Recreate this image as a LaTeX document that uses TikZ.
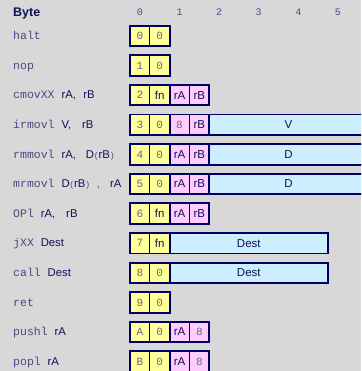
\documentclass[tikz,border=0pt]{standalone}
\usepackage{fontspec}
\setmainfont{Liberation Sans}
\setmonofont{Liberation Mono}
\newfontfamily\monofam{Liberation Mono}
\definecolor{bgc}{HTML}{D8D8D8}
\definecolor{navy}{HTML}{000066}
\definecolor{txt}{HTML}{10105A}
\definecolor{mnc}{HTML}{4A4A82}
\definecolor{digc}{HTML}{66668A}
\definecolor{yel}{HTML}{FFFF99}
\definecolor{pnk}{HTML}{FFCCFF}
\definecolor{blu}{HTML}{CCEEFF}
\newcommand\mn[1]{{\monofam\fontsize{11.5}{12}\selectfont\color{mnc}#1}}
\newcommand\mnp[1]{\kern-0.3pt{\monofam\fontsize{8.5}{9}\selectfont\color{mnc}#1}\kern-0.3pt}
\tikzset{
  cell/.style={draw=navy, line width=0.7pt, minimum width=19.8pt, minimum height=20.5pt,
    inner sep=0pt, outer sep=0pt, anchor=west, text=txt, font=\fontsize{11.5}{12}\selectfont},
  ycell/.style={cell, fill=yel, text=digc, font=\monofam\fontsize{11}{12}\selectfont},
  fcell/.style={cell, fill=yel},
  pcell/.style={cell, fill=pnk},
  pdig/.style={cell, fill=pnk, text=digc, font=\monofam\fontsize{11}{12}\selectfont},
  bcell/.style={cell, fill=blu, minimum width=158.4pt},
  frame/.style={draw=navy, line width=1.9pt},
  lab/.style={anchor=base west, inner sep=0pt, text=txt, font=\fontsize{11.3}{12}\selectfont},
  colnum/.style={anchor=base, inner sep=0pt, text=mnc, font=\monofam\fontsize{10}{11}\selectfont}
}
\begin{document}
\begin{tikzpicture}[x=1pt,y=-1pt]
\fill[bgc] (0,0) rectangle (361,371);
\clip (0,0) rectangle (361,371);
% header
\node[lab, font=\bfseries\fontsize{12.5}{13}\selectfont] (hdr) at (13,16.5) {Byte};
\foreach \k in {0,...,5} {
  \node[colnum] (col\k) at ({139.9+39.6*\k},15.7) {\k};
}
% labels
\node[lab] (l0) at (13,39.7) {\mn{halt}};
\node[lab] (l1) at (13,69.3) {\mn{nop}};
\node[lab] (l2) at (13,98.9) {\mn{cmovXX\ }rA,\hspace{7.5pt}rB};
\node[lab] (l3) at (13,128.5) {\mn{irmovl\ }V,\hspace{11pt}rB};
\node[lab] (l4) at (13,158.1) {\mn{rmmovl\ }rA,\hspace{10pt}D\mnp{(}rB\mnp{)}};
\node[lab] (l5) at (13,187.7) {\mn{mrmovl\ }D\mnp{(}rB\mnp{)}\hspace{7pt}{\color{mnc},}\hspace{10pt}rA};
\node[lab] (l6) at (13,217.3) {\mn{OPl\ }rA,\hspace{11pt}rB};
\node[lab] (l7) at (13,246.9) {\mn{jXX\ }Dest};
\node[lab] (l8) at (13,276.5) {\mn{call\ }Dest};
\node[lab] (l9) at (13,306.1) {\mn{ret}};
\node[lab] (l10) at (13,335.7) {\mn{pushl\ }rA};
\node[lab] (l11) at (13,365.3) {\mn{popl\ }rA};
% halt
\node[ycell] (a0) at (130,36) {0};
\node[ycell] (a1) at (149.8,36) {0};
\draw[frame] (a0.north west) rectangle (a1.south east);
% nop
\node[ycell] (b0) at (130,65.6) {1};
\node[ycell] (b1) at (149.8,65.6) {0};
\draw[frame] (b0.north west) rectangle (b1.south east);
% cmovXX
\node[ycell] (c0) at (130,95.2) {2};
\node[fcell] (c1) at (149.8,95.2) {fn};
\node[pcell] (c2) at (169.6,95.2) {rA};
\node[pcell] (c3) at (189.4,95.2) {rB};
\draw[frame] (c0.north west) rectangle (c1.south east);
\draw[frame] (c2.north west) rectangle (c3.south east);
% irmovl
\node[ycell] (d0) at (130,124.8) {3};
\node[ycell] (d1) at (149.8,124.8) {0};
\node[pdig] (d2) at (169.6,124.8) {8};
\node[pcell] (d3) at (189.4,124.8) {rB};
\node[bcell] (d4) at (209.2,124.8) {V};
\draw[frame] (d0.north west) rectangle (d1.south east);
\draw[frame] (d2.north west) rectangle (d3.south east);
\draw[frame] (d4.north west) rectangle (d4.south east);
% rmmovl
\node[ycell] (e0) at (130,154.4) {4};
\node[ycell] (e1) at (149.8,154.4) {0};
\node[pcell] (e2) at (169.6,154.4) {rA};
\node[pcell] (e3) at (189.4,154.4) {rB};
\node[bcell] (e4) at (209.2,154.4) {D};
\draw[frame] (e0.north west) rectangle (e1.south east);
\draw[frame] (e2.north west) rectangle (e3.south east);
\draw[frame] (e4.north west) rectangle (e4.south east);
% mrmovl
\node[ycell] (f0) at (130,184) {5};
\node[ycell] (f1) at (149.8,184) {0};
\node[pcell] (f2) at (169.6,184) {rA};
\node[pcell] (f3) at (189.4,184) {rB};
\node[bcell] (f4) at (209.2,184) {D};
\draw[frame] (f0.north west) rectangle (f1.south east);
\draw[frame] (f2.north west) rectangle (f3.south east);
\draw[frame] (f4.north west) rectangle (f4.south east);
% OPl
\node[ycell] (g0) at (130,213.6) {6};
\node[fcell] (g1) at (149.8,213.6) {fn};
\node[pcell] (g2) at (169.6,213.6) {rA};
\node[pcell] (g3) at (189.4,213.6) {rB};
\draw[frame] (g0.north west) rectangle (g1.south east);
\draw[frame] (g2.north west) rectangle (g3.south east);
% jXX
\node[ycell] (h0) at (130,243.2) {7};
\node[fcell] (h1) at (149.8,243.2) {fn};
\node[bcell] (h2) at (169.6,243.2) {Dest};
\draw[frame] (h0.north west) rectangle (h1.south east);
\draw[frame] (h2.north west) rectangle (h2.south east);
% call
\node[ycell] (i0) at (130,272.8) {8};
\node[ycell] (i1) at (149.8,272.8) {0};
\node[bcell] (i2) at (169.6,272.8) {Dest};
\draw[frame] (i0.north west) rectangle (i1.south east);
\draw[frame] (i2.north west) rectangle (i2.south east);
% ret
\node[ycell] (j0) at (130,302.4) {9};
\node[ycell] (j1) at (149.8,302.4) {0};
\draw[frame] (j0.north west) rectangle (j1.south east);
% pushl
\node[ycell] (k0) at (130,332) {A};
\node[ycell] (k1) at (149.8,332) {0};
\node[pcell] (k2) at (169.6,332) {rA};
\node[pdig] (k3) at (189.4,332) {8};
\draw[frame] (k0.north west) rectangle (k1.south east);
\draw[frame] (k2.north west) rectangle (k3.south east);
% popl
\node[ycell] (m0) at (130,361.6) {B};
\node[ycell] (m1) at (149.8,361.6) {0};
\node[pcell] (m2) at (169.6,361.6) {rA};
\node[pdig] (m3) at (189.4,361.6) {8};
\draw[frame] (m0.north west) rectangle (m1.south east);
\draw[frame] (m2.north west) rectangle (m3.south east);
\end{tikzpicture}
\end{document}
